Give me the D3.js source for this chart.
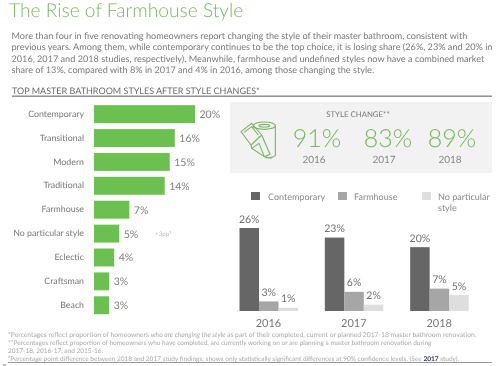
<!DOCTYPE html>
<html><head><meta charset="utf-8">
<script src="https://cdnjs.cloudflare.com/ajax/libs/d3/7.8.5/d3.min.js"></script>
<style>
html,body{margin:0;padding:0;background:#fff}
svg{display:block;filter:blur(0.35px)}
text{font-family:Lato,"Open Sans",sans-serif;text-rendering:geometricPrecision}
</style></head><body><svg id="c" width="497" height="366"></svg>
<script>
const titleText = "The Rise of Farmhouse Style";
const introLines = [
 "More than four in five renovating homeowners report changing the style of their master bathroom, consistent with",
 "previous years. Among them, while contemporary continues to be the top choice, it is losing share (26%, 23% and 20% in",
 "2016, 2017 and 2018 studies, respectively). Meanwhile, farmhouse and undefined styles now have a combined market",
 "share of 13%, compared with 8% in 2017 and 4% in 2016, among those changing the style."
];
const sectionTitle = "TOP MASTER BATHROOM STYLES AFTER STYLE CHANGES*";
const styles = ["Contemporary","Transitional","Modern","Traditional","Farmhouse","No particular style","Eclectic","Craftsman","Beach"];
const styleValues = [20,16,15,14,7,5,4,3,3];
const years = ["2016","2017","2018"];
const styleChange = [91,83,89];
const groupSeries = ["Contemporary","Farmhouse","No particular style"];
const contemporary = [26,23,20];
const farmhouse = [3,6,7];
const noParticular = [1,2,5];
const footnotes = [
 [["*Percentages reflect proportion of homeowners ",0],["who are changing the style",1],[" as part of their completed, current or planned 2017-18 master bathroom renovation.",0]],
 [["**Percentages reflect proportion of homeowners who have completed, are currently working on or are planning a master bathroom renovation during",0]],
 [["2017-18, 2016-17, and 2015-16.",0]],
 [["\u00B2Percentage point difference between 2018 and 2017 study findings; shows only statistically significant differences at 90% confidence levels. (See ",0],["2017",2],[" study).",0]]
];

const svg = d3.select("#c");
const GREEN="#6cc04f", TITLE="#79b65f";

svg.append("text").attr("x",9).attr("y",16.5).attr("font-size",19.2).attr("font-weight",300)
  .attr("fill",TITLE).text(titleText);

svg.selectAll(".intro").data(introLines).join("text").attr("class","intro")
  .attr("x",11.5).attr("y",(d,i)=>39+i*11.4).attr("font-size",9.15).attr("fill","#7a7a7a").text(d=>d);

svg.append("text").attr("x",12).attr("y",94).attr("font-size",9).attr("fill","#6a6a6a").text(sectionTitle);
svg.append("rect").attr("x",12).attr("y",95.5).attr("width",480).attr("height",1.4).attr("fill","#888");

// Left bar chart
const xL = d3.scaleLinear().domain([0,20]).range([94,195]);
const yL = d3.scaleBand().domain(styles).range([102.2,317.2]).paddingInner(0.25).paddingOuter(0.125);
const left = svg.append("g");
left.selectAll("rect").data(styles).join("rect")
  .attr("x",xL(0)).attr("y",d=>yL(d)).attr("height",yL.bandwidth())
  .attr("width",(d,i)=>xL(styleValues[i])-xL(0)).attr("fill",GREEN);
left.selectAll(".cat").data(styles).join("text").attr("class","cat")
  .attr("x",84).attr("y",d=>yL(d)+yL.bandwidth()/2+2.6).attr("text-anchor","end")
  .attr("font-size",8.8).attr("fill","#777").text(d=>d);
left.selectAll(".val").data(styles).join("text").attr("class","val")
  .attr("x",(d,i)=>xL(styleValues[i])+4.5).attr("y",d=>yL(d)+yL.bandwidth()/2+4)
  .attr("font-size",10.5).attr("fill","#808080").text((d,i)=>styleValues[i]+"%");
svg.append("text").attr("x",155).attr("y",236).attr("font-size",6.3).attr("fill","#bbb").text("+3pp\u00B2");

// Style change panel
svg.append("rect").attr("x",230).attr("y",102).attr("width",262).attr("height",71).attr("fill","#f2f2f2");
svg.append("text").attr("x",358).attr("y",117).attr("text-anchor","middle").attr("font-size",7.8)
  .attr("fill","#777").text("STYLE CHANGE**");
const icon = svg.append("g").attr("transform","translate(235,115) scale(0.3333)").attr("fill","none")
  .attr("stroke",TITLE).attr("stroke-width",3.3).attr("stroke-linejoin","round");
icon.append("ellipse").attr("cx",88).attr("cy",32).attr("rx",33).attr("ry",11);
icon.append("ellipse").attr("cx",88).attr("cy",32).attr("rx",16).attr("ry",4);
icon.append("path").attr("d","M55 32 L55 38 M121 32 L121 122 Q112 130 92 128");
icon.append("path").attr("d","M18 50 L50 25 L80 60 L48 90 Z M27 52 L50 35 L70 60");
icon.append("path").attr("d","M48 90 L50 100 L88 125 L110 130 M80 60 L105 118 L88 125 L72 85 L50 100");
const centers = {"2016":317,"2017":388,"2018":452};
const yearCenters = {"2016":314,"2017":384,"2018":450};
svg.selectAll(".big").data(years).join("text").attr("class","big")
  .attr("x",d=>centers[d]).attr("y",147).attr("text-anchor","middle").attr("font-size",25).attr("font-weight",300)
  .attr("fill",TITLE).text((d,i)=>styleChange[i]+"%");
svg.selectAll(".bigY").data(years).join("text").attr("class","bigY")
  .attr("x",d=>yearCenters[d]).attr("y",163).attr("text-anchor","middle").attr("font-size",10)
  .attr("fill","#888").text(d=>d);

// Legend
const colors = d3.scaleOrdinal().domain(groupSeries).range(["#666666","#a6a6a6","#dedede"]);
const legX = [251,338,422], legTx=[268,354,438];
svg.selectAll(".lg").data(groupSeries).join("rect").attr("class","lg")
  .attr("x",(d,i)=>legX[i]).attr("y",192).attr("width",9).attr("height",8).attr("fill",d=>colors(d));
const legLabels=[["Contemporary"],["Farmhouse"],["No particular","style"]];
legLabels.forEach((ls,i)=>ls.forEach((t,j)=>{
  svg.append("text").attr("x",legTx[i]).attr("y",200+j*10.5).attr("font-size",9).attr("fill","#888").text(t);
}));

// Grouped bars
const x0 = d3.scaleBand().domain(years).range([239.5,495.5]).paddingInner(0).paddingOuter(0);
const x1 = d3.scaleBand().domain(groupSeries).range([0,58.5]);
const yB = d3.scaleLinear().domain([0,26]).range([311,228]);
const seriesVals = {"Contemporary":contemporary,"Farmhouse":farmhouse,"No particular style":noParticular};
const g = svg.append("g");
groupSeries.forEach(s=>{
  years.forEach((yr,i)=>{
    const v=seriesVals[s][i];
    g.append("rect").attr("x",x0(yr)+x1(s)).attr("y",yB(v)).attr("width",x1.bandwidth())
      .attr("height",yB(0)-yB(v)).attr("fill",colors(s));
    g.append("text").attr("x",x0(yr)+x1(s)+x1.bandwidth()/2).attr("y",yB(v)-5.5).attr("text-anchor","middle")
      .attr("font-size",10.5).attr("fill","#707070").text(v+"%");
  });
});
g.selectAll(".yr").data(years).join("text").attr("class","yr")
  .attr("x",d=>x0(d)+29).attr("y",327).attr("text-anchor","middle").attr("font-size",11)
  .attr("fill","#777").text(d=>d);

// Footnotes
footnotes.forEach((parts,i)=>{
  const t=svg.append("text").attr("x",8).attr("y",336.5+i*8.2).attr("font-size",i===0?6.75:6.5).attr("fill","#a8a8a8");
  parts.forEach(p=>{
    const s=t.append("tspan").text(p[0]);
    if(p[1]===1) s.attr("font-style","italic");
    if(p[1]===2) s.attr("font-weight",700).attr("fill","#2b2f6b");
  });
});
svg.append("rect").attr("x",8).attr("y",362).attr("width",484).attr("height",1).attr("fill","#999");
svg.append("rect").attr("x",3).attr("y",364).attr("width",3).attr("height",2).attr("fill","#a9d59a");
</script></body></html>
